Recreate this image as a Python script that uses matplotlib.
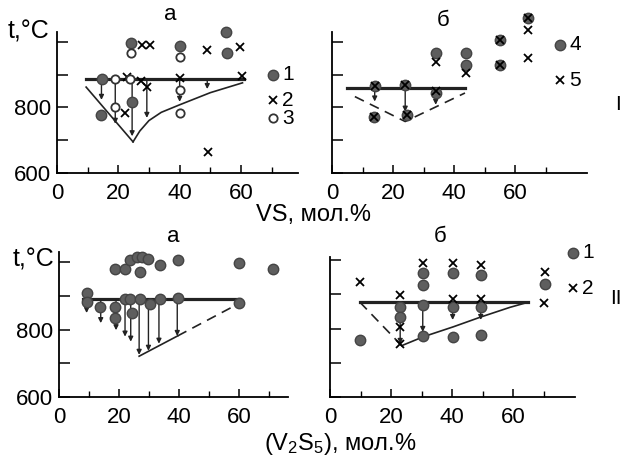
import matplotlib.pyplot as plt
from matplotlib.lines import Line2D

plt.rcParams['font.family'] = ['Liberation Sans', 'DejaVu Sans']
plt.rcParams['mathtext.fontset'] = 'custom'
plt.rcParams['mathtext.rm'] = 'Liberation Sans'
plt.rcParams['mathtext.it'] = 'Liberation Sans:italic'

W, H = 629, 463

# ---- panel I a (VS, мол.%)
ia_line_t = 887
ia_line_x = [9.5, 61]
ia_liq_left_x = [9.5, 24.8]
ia_liq_left_t = [862, 695]
ia_liq_right_x = [24.8, 27, 30, 34, 40, 50, 60.5]
ia_liq_right_t = [695, 728, 760, 785, 808, 845, 875]
ia_arrow_x = [14.5, 19, 24.5, 29.3, 40, 49]
ia_arrow_t = [823, 750, 712, 768, 817, 856]
ia_s1_x = [14.6, 14.5, 24.6, 24, 40, 55, 55.5]
ia_s1_t = [887, 777, 817, 997, 988, 1030, 966]
ia_s2_x = [27.7, 30.3, 48.9, 59.7, 22.8, 27.5, 29.3, 40, 60.3, 22.2, 49.3]
ia_s2_t = [991, 991, 976, 985, 893, 880, 862, 890, 897, 783, 664]
ia_s3_x = [24, 40, 18.9, 23.8, 18.9, 40, 40]
ia_s3_t = [966, 954, 887, 887, 802, 853, 783]

# ---- panel I б
ib_line_t = 860
ib_line_x = [4.8, 43.6]
ib_dash_x = [7.5, 24, 43.6]
ib_dash_t = [833, 757, 844]
ib_arrow_x = [14, 24, 34]
ib_arrow_t = [818, 787, 808]
ib_s4_x = [14, 13.8, 24, 24.5, 34, 34, 44, 44, 55, 55, 64.4]
ib_s4_t = [866, 770, 869, 777, 843, 965, 967, 930, 1006, 930, 1072]
ib_s5_x = [14, 13.8, 24, 24.5, 34, 34, 44, 55, 55, 64.4, 64.4, 64.4]
ib_s5_t = [866, 770, 869, 777, 850, 940, 905, 1006, 930, 1072, 1037, 950]

# ---- panel II a ((V2S5), мол.%)
iia_line_t = 890
iia_line_x = [8, 60.3]
iia_solid_x = [26.7, 39.5]
iia_solid_t = [721, 781]
iia_dash_x = [39.5, 60.1]
iia_dash_t = [781, 878]
iia_arrow_x = [9.2, 13.9, 19, 22, 23.9, 26.7, 29.8, 33.3, 39.4]
iia_arrow_t = [849, 819, 798, 779, 764, 725, 737, 758, 781]
iia_s1_x = [18.7, 22, 23.7, 25.9, 27.6, 29.8, 27, 33.7, 39.8, 60.1, 71.2,
            9.4, 9.4, 22, 23.7, 27, 30.3, 33.7, 39.8, 60.1,
            13.7, 18.7, 18.7, 24.2]
iia_s1_t = [981, 981, 1006, 1016, 1014, 1008, 971, 991, 1006, 998, 981,
            907, 882, 892, 892, 892, 876, 892, 895, 878,
            866, 866, 833, 848]

# ---- panel II б
iib_line_t = 877
iib_line_x = [9.8, 65]
iib_dash_x = [9.8, 23.5]
iib_dash_t = [877, 750]
iib_liq_x = [23.5, 30.6, 40.4, 49.2, 59, 65]
iib_liq_t = [750, 776, 805, 833, 862, 877]
iib_arrow_x = [23, 30.4, 40.2, 49.4]
iib_arrow_t = [755, 790, 825, 825]
iib_s1_x = [9.8, 23, 23, 30.4, 30.4, 30.4, 30.4, 40.2, 40.2, 40.2, 49.4, 49.4, 49.4, 70.5]
iib_s1_t = [766, 864, 833, 961, 927, 869, 778, 963, 864, 776, 956, 862, 781, 930]
iib_s2_x = [9.8, 23, 23, 23, 30.4, 40.2, 40.2, 49.4, 49.4, 70.5, 70]
iib_s2_t = [937, 898, 804, 755, 992, 992, 885, 985, 885, 966, 874]

x_ticks = [0, 20, 40, 60]
x_minor = [10, 30, 50, 70]
y_ticks = [600, 700, 800, 900, 1000]

GRAY = '#5e5e5e'
fig = plt.figure(figsize=(W / 100, H / 100), dpi=100)


def px(x, y):
    return x / W, 1 - y / H


def make_axes(left, top, right, bottom, xmax, ymax, ylabels):
    ax = fig.add_axes([left / W, 1 - bottom / H, (right - left) / W, (bottom - top) / H])
    ax.set_xlim(0, xmax)
    ax.set_ylim(600, ymax)
    for s in ['top', 'right']:
        ax.spines[s].set_visible(False)
    for s in ['left', 'bottom']:
        ax.spines[s].set_linewidth(1.3)
    ax.set_xticks(x_ticks)
    ax.set_xticks(x_minor, minor=True)
    ax.set_yticks(y_ticks)
    if ylabels:
        ax.set_yticklabels(['600', '', '800', '', ''])
    else:
        ax.set_yticklabels([])
    ax.tick_params(axis='x', which='major', direction='in', length=6, width=1.1,
                   labelsize=16, pad=7)
    ax.tick_params(axis='x', which='minor', direction='in', length=4, width=1.0)
    ax.tick_params(axis='y', direction='in', length=8, width=1.1, labelsize=16, pad=4)
    return ax


def filled(ax, x, t):
    ax.plot(x, t, 'o', ms=7.5, color=GRAY, mec='#444444', ls='none', clip_on=False, zorder=4)


def cross(ax, x, t):
    ax.plot(x, t, 'x', ms=5.5, mew=1.3, color='k', ls='none', clip_on=False, zorder=5)


def opencirc(ax, x, t):
    ax.plot(x, t, 'o', ms=6, mfc='white', mec='#333333', mew=1.3, ls='none',
            clip_on=False, zorder=5)


def arrows(ax, xs, t_top, t_ends):
    for x, te in zip(xs, t_ends):
        ax.annotate('', xy=(x, te), xytext=(x, t_top),
                    arrowprops=dict(arrowstyle='-|>', lw=1.0, color='#222222',
                                    mutation_scale=7, shrinkA=0, shrinkB=0))


# I a
ax1 = make_axes(57, 32, 298, 173, 78.6, 1030, True)
ax1.plot(ia_line_x, [ia_line_t] * 2, color='#222222', lw=2.3)
ax1.plot(ia_liq_left_x, ia_liq_left_t, color='#222222', lw=1.2)
ax1.plot(ia_liq_right_x, ia_liq_right_t, color='#222222', lw=1.2)
arrows(ax1, ia_arrow_x, ia_line_t, ia_arrow_t)
filled(ax1, ia_s1_x, ia_s1_t)
cross(ax1, ia_s2_x, ia_s2_t)
opencirc(ax1, ia_s3_x, ia_s3_t)

# I б
ax2 = make_axes(332, 32, 587, 173, 83.6, 1030, False)
ax2.plot(ib_line_x, [ib_line_t] * 2, color='#222222', lw=2.3)
ax2.plot(ib_dash_x, ib_dash_t, color='#222222', lw=1.2, dashes=(6, 4))
arrows(ax2, ib_arrow_x, ib_line_t, ib_arrow_t)
filled(ax2, ib_s4_x, ib_s4_t)
cross(ax2, ib_s5_x, ib_s5_t)

# II a
ax3 = make_axes(59, 252, 288, 397, 76.3, 1030, True)
ax3.plot(iia_line_x, [iia_line_t] * 2, color='#222222', lw=2.3)
ax3.plot(iia_solid_x, iia_solid_t, color='#222222', lw=1.2)
ax3.plot(iia_dash_x, iia_dash_t, color='#222222', lw=1.2, dashes=(6, 4))
arrows(ax3, iia_arrow_x, iia_line_t, iia_arrow_t)
filled(ax3, iia_s1_x, iia_s1_t)

# II б
ax4 = make_axes(330, 257, 575, 397, 80.3, 1009, False)
ax4.plot(iib_line_x, [iib_line_t] * 2, color='#222222', lw=2.3)
ax4.plot(iib_dash_x, iib_dash_t, color='#222222', lw=1.2, dashes=(6, 4))
ax4.plot(iib_liq_x, iib_liq_t, color='#222222', lw=1.2)
arrows(ax4, iib_arrow_x, iib_line_t, iib_arrow_t)
filled(ax4, iib_s1_x, iib_s1_t)
cross(ax4, iib_s2_x, iib_s2_t)


# legends (figure pixel coords)
def leg(xp, yp, kind, label):
    fx, fy = px(xp, yp)
    if kind == 'f':
        fig.add_artist(Line2D([fx], [fy], marker='o', ms=7.5, color=GRAY, mec='#444444'))
    elif kind == 'x':
        fig.add_artist(Line2D([fx], [fy], marker='x', ms=5.5, mew=1.3, color='k'))
    else:
        fig.add_artist(Line2D([fx], [fy], marker='o', ms=6, mfc='white', mec='#333333', mew=1.3))
    tx, ty = px(xp + 9, yp)
    fig.text(tx, ty, label, fontsize=15, va='center', ha='left')


leg(273, 75, 'f', '1')
leg(273, 100, 'x', '2')
leg(273, 118, 'o', '3')
leg(560, 45, 'f', '4')
leg(560, 80, 'x', '5')
leg(573, 253, 'f', '1')
leg(573, 288, 'x', '2')

# texts
fig.text(*px(8, 31), 't,°C', fontsize=18, va='center', ha='left')
fig.text(*px(13, 260), 't,°C', fontsize=18, va='center', ha='left')
fig.text(*px(170, 15), 'а', fontsize=16, va='center', ha='center')
fig.text(*px(443, 20), 'б', fontsize=16, va='center', ha='center')
fig.text(*px(173, 236), 'а', fontsize=16, va='center', ha='center')
fig.text(*px(440, 236), 'б', fontsize=16, va='center', ha='center')
fig.text(*px(313, 215), 'VS, мол.%', fontsize=17, va='center', ha='center')
fig.text(*px(340, 444), '(V$_2$S$_5$), мол.%', fontsize=17, va='center', ha='center')
fig.text(*px(618, 105), 'I', fontsize=15, va='center', ha='center')
fig.text(*px(616, 298), 'II', fontsize=15, va='center', ha='center')

fig.savefig('out.png', dpi=100)
